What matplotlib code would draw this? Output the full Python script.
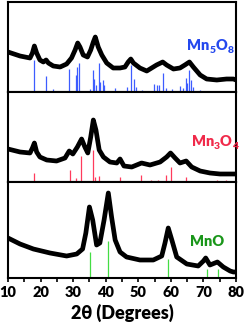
import matplotlib
matplotlib.use('Agg')
import matplotlib.pyplot as plt
from matplotlib import transforms
from matplotlib.ticker import MultipleLocator

plt.rcParams['font.family'] = ['Lato', 'DejaVu Sans']
plt.rcParams['font.weight'] = 'bold'

# Mn5O8 pattern (2theta, intensity a.u.)
mn5o8_tt = [10.0, 13.7, 16.75, 17.5, 18.1, 18.8, 19.8, 20.85, 21.7, 22.4, 23.9, 26.0, 28.0,
            29.5, 30.6, 31.4, 32.1, 33.1, 34.4, 35.4, 36.2, 36.8, 37.7, 38.8, 40.3, 42.3,
            44.4, 45.9, 46.9, 47.7, 48.5, 50.5, 52.6, 54.1, 55.6, 57.5, 58.7, 60.8, 62.8,
            64.3, 65.7, 66.9, 69.0, 71.0, 74.1, 77.1, 79.2, 80.0]
mn5o8_int = [40, 36, 34, 39, 46, 39, 32, 30, 32, 29, 26, 25, 28,
             34, 42, 49, 45, 37, 35, 42, 50, 55, 45, 37, 29, 24,
             24, 25, 30, 33, 29, 24, 21, 24, 27, 30, 27, 23, 24,
             27, 30, 25, 17, 13, 12, 13, 13, 12]
mn5o8_ref_tt = [18.1, 21.6, 23.9, 28.6, 30.9, 31.3, 31.8, 35.2, 36.2, 36.5, 37.0, 37.9, 38.3,
                39.1, 39.6, 42.9, 46.4, 47.8, 48.7, 49.2, 51.0, 54.8, 55.6, 56.5, 57.7, 58.5,
                60.3, 62.8, 63.6, 64.7, 65.1, 65.7, 66.2, 66.7, 69.0, 73.6]
mn5o8_ref_h = [32, 16, 3, 23, 17, 25, 29, 3, 22, 13, 7, 29, 10,
               12, 7, 4, 5, 27, 13, 5, 2, 8, 7, 7, 19, 4,
               3, 6, 4, 14, 9, 22, 12, 5, 2, 1]

# Mn3O4 pattern
mn3o4_tt = [10.0, 13.7, 16.75, 17.5, 18.1, 18.8, 19.8, 21.9, 24.9, 27.5, 28.8, 29.9, 31.3,
            32.6, 33.6, 34.5, 35.4, 36.2, 37.0, 38.0, 39.3, 41.3, 43.4, 44.4, 45.6, 48.0,
            51.0, 53.6, 56.7, 58.7, 59.9, 61.3, 62.8, 64.7, 66.4, 69.0, 72.0, 75.1, 79.2, 80.0]
mn3o4_int = [33, 30, 29, 34, 39, 30, 25, 22, 21, 24, 31, 28, 35,
             43, 35, 29, 45, 62, 52, 32, 25, 20, 19, 23, 16, 15,
             19, 17, 20, 25, 29, 24, 19, 21, 15, 11, 9, 8, 8, 8]
mn3o4_ref_tt = [18.0, 28.9, 31.0, 32.3, 36.1, 36.6, 37.8, 44.4, 49.8, 50.8, 53.9, 56.0, 58.5,
                59.9, 62.8, 64.5, 67.9, 69.6, 74.1, 76.9, 77.6]
mn3o4_ref_h = [9, 12, 4, 26, 32, 5, 6, 5, 1, 7, 2, 2, 7,
               15, 1, 5, 1, 1, 2, 2, 1]

# MnO pattern
mno_tt = [10.0, 13.7, 17.8, 22.9, 28.0, 31.1, 32.9, 33.9, 35.0, 36.0, 37.2, 38.2, 39.5,
          40.8, 41.8, 42.9, 44.4, 46.4, 50.5, 54.6, 57.2, 58.2, 59.2, 60.3, 61.8, 64.9,
          68.4, 70.0, 70.7, 72.0, 74.3, 76.1, 78.2, 79.2, 80.0]
mno_int = [40, 34, 29, 25, 22, 24, 29, 45, 71, 58, 33, 35, 58,
           85, 61, 38, 26, 21, 18, 18, 22, 35, 50, 38, 21, 14,
           12, 17, 20, 13, 16, 11, 7, 6, 6]
mno_ref_tt = [35.1, 40.8, 59.2, 71.0, 74.6]
mno_ref_h = [26, 37, 19, 9, 9]

# label pieces: (text, is_subscript)
mn5o8_name = [('Mn', False), ('5', True), ('O', False), ('8', True)]
mn3o4_name = [('Mn', False), ('3', True), ('O', False), ('4', True)]
mno_name = [('MnO', False)]

panels = [
    (mn5o8_tt, mn5o8_int, mn5o8_ref_tt, mn5o8_ref_h, '#3d5cff', '#2448ee', mn5o8_name, 90),
    (mn3o4_tt, mn3o4_int, mn3o4_ref_tt, mn3o4_ref_h, '#ff3b5c', '#f02a4a', mn3o4_name, 90),
    (mno_tt, mno_int, mno_ref_tt, mno_ref_h, '#44dd44', '#1a961a', mno_name, 96),
]
label_pos = [(0.787, 42 / 90), (0.805, 35.5 / 90), (0.80, 32.5 / 96)]

fig = plt.figure(figsize=(2.45, 3.35), dpi=100)
W, H = 245, 335
tops = [2, 92, 182, 278]


def chem_label(ax, x, y, pieces, color):
    renderer = fig.canvas.get_renderer()
    tr = ax.transAxes
    for txt, sub in pieces:
        size = 7.5 if sub else 10.5
        t = ax.text(x, y, txt, color=color, fontsize=size, fontweight='heavy',
                    ha='left', va='baseline',
                    transform=transforms.offset_copy(tr, fig=fig, y=-3 if sub else 0, units='dots'))
        t.draw(renderer)
        ex = t.get_window_extent(renderer)
        tr = transforms.offset_copy(tr, fig=fig, x=ex.width, units='dots')


axes = []
for i, (tt, inten, rtt, rh, scol, lcol, name, ymax) in enumerate(panels):
    y0, y1 = tops[i], tops[i + 1]
    ax = fig.add_axes([8 / W, 1 - y1 / H, 228 / W, (y1 - y0) / H])
    ax.vlines(rtt, 0, rh, color=scol, lw=0.9, zorder=1)
    ax.plot(tt, inten, color='black', lw=3.4, zorder=2, solid_joinstyle='round')
    ax.set_xlim(10, 80)
    ax.set_ylim(0, ymax)
    ax.set_yticks([])
    for s in ax.spines.values():
        s.set_linewidth(1.5)
    ax.xaxis.set_major_locator(MultipleLocator(10))
    ax.xaxis.set_minor_locator(MultipleLocator(5))
    if i < 2:
        ax.tick_params(axis='x', which='both', bottom=False, labelbottom=False)
    chem_label(ax, label_pos[i][0], label_pos[i][1], name, lcol)
    axes.append(ax)

ax = axes[-1]
ax.tick_params(axis='x', which='both', direction='out', length=3, width=1.2, pad=3,
               labelsize=10.5)
for lab in ax.get_xticklabels():
    lab.set_fontweight('heavy')
ax.set_xlabel(u'2\u03b8 (Degrees)', fontsize=13, fontweight='heavy', labelpad=3)

fig.savefig('out.png', dpi=100)
